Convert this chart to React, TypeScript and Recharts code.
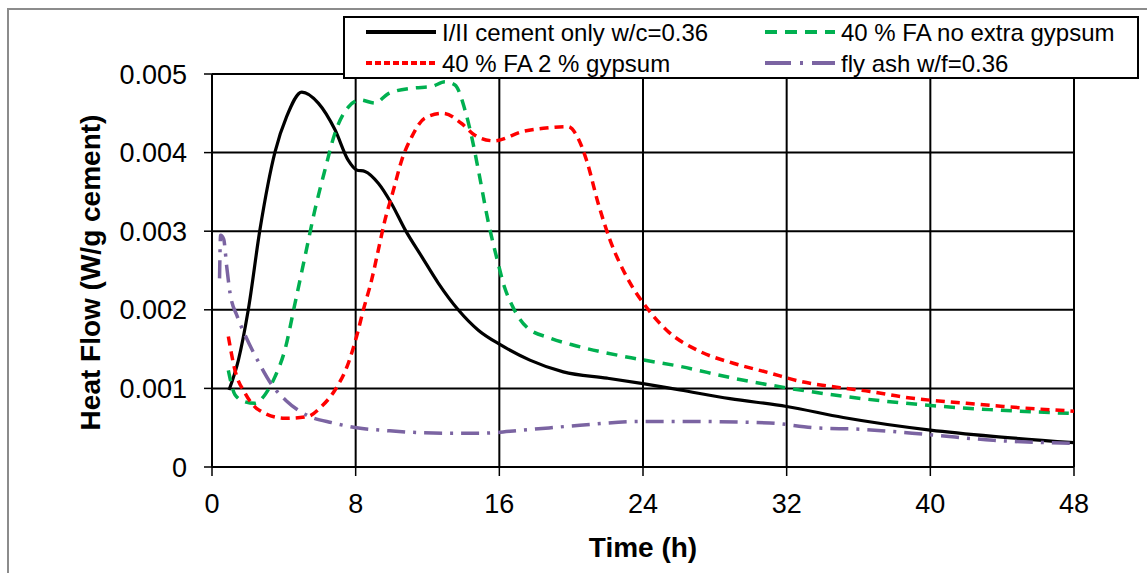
import React from "react";
import { LineChart, Line, XAxis, YAxis, CartesianGrid } from "recharts";

// heat flow curves, [time h, W/g cement]
const cementOnly: [number, number][] = [
  [0.95, 0.00098], [1.47, 0.00136], [2.02, 0.002], [2.67, 0.00302], [3.51, 0.00401],
  [4.16, 0.00446], [5.0, 0.00477], [5.92, 0.00463], [6.85, 0.00429], [7.59, 0.0039],
  [8.05, 0.00378], [8.52, 0.00376], [9.26, 0.00361], [10.0, 0.00335], [10.75, 0.00302],
  [11.67, 0.00268], [12.6, 0.00234], [13.71, 0.002], [14.83, 0.00174], [16.1, 0.00155],
  [17.7, 0.00136], [19.56, 0.00121], [22.0, 0.00113], [24.0, 0.00106], [26.06, 0.00098],
  [28.84, 0.00087], [32.0, 0.00077], [35.15, 0.00063], [40.0, 0.00047], [43.5, 0.00039],
  [48.0, 0.00031],
];

const faNoGypsum: [number, number][] = [
  [0.91, 0.00123], [1.28, 0.00092], [1.84, 0.00083], [2.39, 0.00081], [2.95, 0.00092],
  [3.51, 0.00115], [4.06, 0.00149], [4.62, 0.00208], [5.18, 0.00268], [5.73, 0.00327],
  [6.29, 0.00378], [6.85, 0.00425], [7.59, 0.00458], [8.24, 0.00467], [9.08, 0.00463],
  [9.82, 0.00475], [11.12, 0.00482], [12.23, 0.00484], [12.97, 0.0049], [13.53, 0.00486],
  [14.09, 0.00454], [14.46, 0.0042], [14.83, 0.00378], [15.4, 0.0031], [15.9, 0.00262],
  [16.3, 0.00228], [16.7, 0.00206], [17.52, 0.00178], [18.82, 0.00164], [20.3, 0.00154],
  [23.09, 0.0014], [26.06, 0.00128], [29.03, 0.00113], [32.18, 0.001], [35.15, 0.0009],
  [39.6, 0.00079], [43.3, 0.00073], [48.0, 0.00068],
];

const faGypsum: [number, number][] = [
  [0.91, 0.00166], [1.28, 0.00123], [1.84, 0.00094], [2.58, 0.00073], [4.06, 0.00062],
  [5.3, 0.00064], [6.1, 0.00077], [6.85, 0.00098], [7.59, 0.00132], [8.05, 0.00166],
  [8.43, 0.002], [8.89, 0.00238], [9.26, 0.00276], [9.63, 0.00314], [10.1, 0.00352],
  [10.56, 0.0039], [11.12, 0.0042], [11.86, 0.00444], [12.88, 0.0045], [13.9, 0.00437],
  [14.64, 0.00422], [15.7, 0.00415], [17.33, 0.00427], [18.45, 0.00431], [19.84, 0.00433],
  [20.3, 0.00422], [20.86, 0.0039], [21.51, 0.00335], [22.16, 0.00289], [23.09, 0.00242],
  [24.3, 0.002], [25.32, 0.00174], [27.17, 0.00147], [29.03, 0.00132], [31.0, 0.0012],
  [32.74, 0.00109], [34.97, 0.00101], [36.64, 0.00096], [38.5, 0.00089], [42.02, 0.00081],
  [44.06, 0.00077], [48.0, 0.00071],
];

const flyAsh: [number, number][] = [
  [0.42, 0.0024], [0.48, 0.00295], [0.65, 0.0029], [0.82, 0.00255], [1.0, 0.00222],
  [1.4, 0.00192], [1.86, 0.00167], [2.58, 0.00134], [3.41, 0.00102], [4.1, 0.00085],
  [5.27, 0.00066], [6.75, 0.00056], [8.05, 0.0005], [9.9, 0.00046], [13.0, 0.00043],
  [15.0, 0.00043], [17.33, 0.00047], [20.49, 0.00053], [23.83, 0.00058], [26.06, 0.00058],
  [31.07, 0.00056], [33.48, 0.0005], [36.08, 0.00048], [40.0, 0.00041], [43.5, 0.00034],
  [48.0, 0.0003],
];

const timeTicks = [0, 8, 16, 24, 32, 40, 48];
const flowTicks = [0, 0.001, 0.002, 0.003, 0.004, 0.005];

const seriesNames = [
  "I/II cement only w/c=0.36",
  "40 % FA no extra gypsum",
  "40 % FA 2 % gypsum",
  "fly ash w/f=0.36",
];

const toPoints = (pairs: [number, number][]) => pairs.map(([t, flow]) => ({ t, flow }));

const series = [
  { name: seriesNames[0], data: toPoints(cementOnly), color: "#000000", dash: undefined, legendDash: undefined, width: 3.2 },
  { name: seriesNames[1], data: toPoints(faNoGypsum), color: "#00B050", dash: "11 8", legendDash: "12 8", width: 3.5 },
  { name: seriesNames[2], data: toPoints(faGypsum), color: "#FF0000", dash: "9 6", legendDash: "6 3", width: 3.5 },
  { name: seriesNames[3], data: toPoints(flyAsh), color: "#7B64A2", dash: "18 8 3 8", legendDash: "26 9 3 9", width: 3.5 },
];

const FONT = "'Liberation Sans', Arial, sans-serif";

function ChartLegend() {
  // two columns, two rows: cement | FA no gypsum, FA gypsum | fly ash
  const slots = [
    { s: series[0], x: 23, y: 16 },
    { s: series[1], x: 422, y: 16 },
    { s: series[2], x: 23, y: 47 },
    { s: series[3], x: 422, y: 47 },
  ];
  return (
    <svg width={796} height={63} style={{ position: "absolute", left: 343, top: 16 }}>
      <rect x={1} y={1} width={794} height={61} fill="#fff" stroke="#000" strokeWidth={2} />
      {slots.map(({ s, x, y }) => (
        <g key={s.name}>
          <line x1={x} x2={x + 70} y1={y} y2={y} stroke={s.color} strokeWidth={4} strokeDasharray={s.legendDash} />
          <text x={x + 76} y={y + 8.5} fontSize={24} fontFamily={FONT} fill="#000">
            {s.name}
          </text>
        </g>
      ))}
    </svg>
  );
}

export default function App() {
  return (
    <div
      style={{
        position: "absolute",
        left: 0,
        top: 0,
        width: 1147,
        height: 573,
        overflow: "hidden",
        background: "#fff",
        fontFamily: FONT,
      }}
    >
      <div
        style={{
          position: "absolute",
          left: 7,
          top: 8,
          width: 1200,
          height: 640,
          border: "2px solid #8c8c8c",
        }}
      />
      <div style={{ position: "absolute", left: 0, top: 0 }}>
        <LineChart width={1147} height={573} margin={{ top: 74, right: 73, left: 0, bottom: 26 }}>
          <CartesianGrid stroke="#000" strokeWidth={2} />
          <XAxis
            dataKey="t"
            type="number"
            domain={[0, 48]}
            ticks={timeTicks}
            interval={0}
            allowDuplicatedCategory={false}
            height={80}
            tickSize={9}
            tickMargin={18}
            axisLine={{ stroke: "#000", strokeWidth: 2 }}
            tickLine={{ stroke: "#000", strokeWidth: 1.5 }}
            tick={{ fill: "#000", fontSize: 27, fontFamily: FONT }}
            label={{
              content: ({ viewBox }: any) => (
                <text
                  x={viewBox.x + viewBox.width / 2}
                  y={viewBox.y + 90}
                  textAnchor="middle"
                  fontSize={28}
                  fontWeight="bold"
                  fontFamily={FONT}
                  fill="#000"
                >
                  Time (h)
                </text>
              ),
            }}
          />
          <YAxis
            type="number"
            domain={[0, 0.005]}
            ticks={flowTicks}
            interval={0}
            width={212}
            tickSize={8}
            tickMargin={17}
            tickFormatter={(v: number) => (v === 0 ? "0" : v.toFixed(3))}
            axisLine={{ stroke: "#000", strokeWidth: 2 }}
            tickLine={{ stroke: "#000", strokeWidth: 1.5 }}
            tick={{ fill: "#000", fontSize: 27, fontFamily: FONT }}
            label={{
              content: ({ viewBox }: any) => {
                const cx = 100;
                const cy = viewBox.y + viewBox.height / 2 + 2;
                return (
                  <text
                    x={cx}
                    y={cy}
                    transform={`rotate(-90 ${cx} ${cy})`}
                    textAnchor="middle"
                    fontSize={28}
                    fontWeight="bold"
                    fontFamily={FONT}
                    fill="#000"
                  >
                    Heat Flow (W/g cement)
                  </text>
                );
              },
            }}
          />
          {series.map((s) => (
            <Line
              key={s.name}
              data={s.data}
              dataKey="flow"
              name={s.name}
              type="monotone"
              stroke={s.color}
              strokeWidth={s.width}
              strokeDasharray={s.dash}
              dot={false}
              activeDot={false}
              isAnimationActive={false}
            />
          ))}
        </LineChart>
      </div>
      <ChartLegend />
    </div>
  );
}
